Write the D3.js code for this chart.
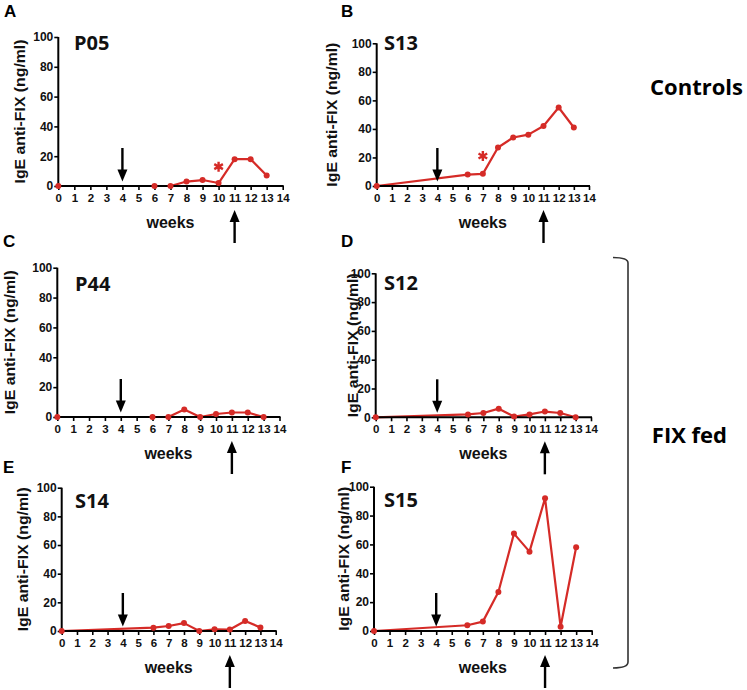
<!DOCTYPE html>
<html>
<head>
<meta charset="utf-8">
<script src="https://cdn.jsdelivr.net/npm/d3@7"></script>
<style>
  html, body { margin: 0; padding: 0; background: #fff; }
  svg { display: block; }
</style>
</head>
<body>
<svg id="chart" width="747" height="690"></svg>
<script>
// ---------------- data ----------------
const weeks = [0, 6, 7, 8, 9, 10, 11, 12, 13];
const panelLetters = ["A", "B", "C", "D", "E", "F"];
const panelNames = ["P05", "S13", "P44", "S12", "S14", "S15"];
const valuesP05 = [0, 0, 0, 3, 4, 2, 18, 18, 7];
const valuesS13 = [0, 8, 8.5, 27, 34, 36, 42, 55, 41];
const valuesP44 = [0, 0, 0, 5, 0, 2, 3, 3, 0];
const valuesS12 = [0, 2, 3, 6, 0.5, 2, 4, 3, 0];
const valuesS14 = [0, 2.3, 3.5, 5.5, 0, 1.2, 1, 7, 2.5];
const valuesS15 = [0, 4, 6.5, 27, 67.5, 55, 92, 3, 58];
const xTicks = [0, 1, 2, 3, 4, 5, 6, 7, 8, 9, 10, 11, 12, 13, 14];
const yTicks = [0, 20, 40, 60, 80, 100];
const xLabel = "weeks";
const yLabel = "IgE anti-FIX (ng/ml)";
const groupLabels = ["Controls", "FIX fed"];
const downArrowWeek = 4;
const upArrowWeek = 11;
const asteriskPanels = [0, 1];
const asteriskWeeks = [10, 7];
const asteriskValues = [13, 21];

const seriesList = [valuesP05, valuesS13, valuesP44, valuesS12, valuesS14, valuesS15];

// ---------------- layout ----------------
const layout = [
  { x0: 58.3, x1: 282.7, y0: 186,   y1: 37,    tx: 20,    lx: 4,   ly: 17,  nx: 74,  ny: 50 },
  { x0: 376.7, x1: 589,  y0: 186,   y1: 43.3,  tx: 332,   lx: 341, ly: 17,  nx: 384, ny: 50 },
  { x0: 57.3, x1: 279.5, y0: 417,   y1: 267.7, tx: 10,    lx: 3,   ly: 247, nx: 75,  ny: 291 },
  { x0: 375.7, x1: 591,  y0: 417.3, y1: 273.3, tx: 353,   lx: 341, ly: 247, nx: 384, ny: 290 },
  { x0: 61.7, x1: 275.7, y0: 631,   y1: 487.7, tx: 23.5,  lx: 3,   ly: 473, nx: 75,  ny: 508 },
  { x0: 374, x1: 591.7,  y0: 631,   y1: 486.7, tx: 344.5, lx: 341, ly: 473, nx: 384, ny: 507 }
];

const RED = "#d52b27";
const svg = d3.select("#chart");
const arialB = "'Liberation Sans', Arial, sans-serif";
const calB = "'Open Sans', 'Noto Sans', sans-serif";

function arrow(g, x, yTail, yTip) {
  const dir = yTip > yTail ? 1 : -1;
  const headLen = 12, headW = 5;
  g.append("line")
    .attr("x1", x).attr("x2", x)
    .attr("y1", yTail).attr("y2", yTip - dir * headLen + dir * 1)
    .attr("stroke", "#000").attr("stroke-width", 2.4);
  g.append("path")
    .attr("d", `M${x - headW},${yTip - dir * headLen} L${x + headW},${yTip - dir * headLen} L${x},${yTip} Z`)
    .attr("fill", "#000");
}

seriesList.forEach((vals, i) => {
  const L = layout[i];
  const x = d3.scaleLinear().domain([0, 14]).range([L.x0, L.x1]);
  const y = d3.scaleLinear().domain([0, 100]).range([L.y0, L.y1]);
  const g = svg.append("g");

  const pts = weeks.map((w, k) => [w, vals[k]]);

  // line (beneath axis)
  g.append("path")
    .datum(pts)
    .attr("fill", "none")
    .attr("stroke", RED)
    .attr("stroke-width", 2.2)
    .attr("stroke-linejoin", "round")
    .attr("d", d3.line().x(d => x(d[0])).y(d => y(d[1])));

  // axes
  const xAxis = d3.axisBottom(x).tickValues(xTicks).tickSize(4).tickSizeOuter(0).tickFormat(d3.format("d"));
  const yAxis = d3.axisLeft(y).tickValues(yTicks).tickSize(4).tickSizeOuter(0).tickFormat(d3.format("d"));

  const gx = g.append("g").attr("transform", `translate(0,${L.y0})`).call(xAxis);
  gx.select(".domain").attr("stroke", "#000").attr("stroke-width", 2).attr("d", `M${L.x0 - 1},0H${L.x1 + 1}`);
  gx.selectAll(".tick line").attr("stroke", "#000").attr("stroke-width", 1.6);
  gx.selectAll(".tick text")
    .attr("y", 8).attr("dy", "0.71em")
    .style("font-family", arialB).style("font-weight", "bold").style("font-size", "11.5px")
    .attr("fill", "#111");

  const gy = g.append("g").attr("transform", `translate(${L.x0},0)`).call(yAxis);
  gy.select(".domain").attr("stroke", "#000").attr("stroke-width", 2).attr("d", `M0,${L.y0 + 1}V${L.y1}`);
  gy.selectAll(".tick line").attr("stroke", "#000").attr("stroke-width", 1.6);
  gy.selectAll(".tick text")
    .attr("x", -5)
    .style("font-family", arialB).style("font-weight", "bold").style("font-size", "12px")
    .attr("fill", "#111");

  // markers
  g.append("g").selectAll("circle").data(pts).join("circle")
    .attr("cx", d => x(d[0])).attr("cy", d => y(d[1]))
    .attr("r", 3).attr("fill", RED);

  // x label
  g.append("text")
    .attr("x", (L.x0 + L.x1) / 2).attr("y", L.y0 + 42)
    .attr("text-anchor", "middle")
    .style("font-family", arialB).style("font-weight", "bold").style("font-size", "16px")
    .attr("fill", "#111")
    .text(xLabel);

  // y label
  const cy = (L.y0 + L.y1) / 2;
  g.append("text")
    .attr("transform", `translate(${L.tx},${cy}) rotate(-90)`)
    .attr("text-anchor", "middle").attr("dy", "0.35em")
    .attr("textLength", 144).attr("lengthAdjust", "spacingAndGlyphs")
    .style("font-family", arialB).style("font-weight", "bold").style("font-size", "14px")
    .attr("fill", "#111")
    .text(yLabel);

  // panel letter
  g.append("text")
    .attr("x", L.lx).attr("y", L.ly)
    .style("font-family", arialB).style("font-weight", "bold").style("font-size", "17px")
    .attr("fill", "#000")
    .text(panelLetters[i]);

  // panel name
  g.append("text")
    .attr("x", L.nx).attr("y", L.ny)
    .style("font-family", calB).style("font-weight", "bold").style("font-size", "20px")
    .attr("fill", "#111")
    .text(panelNames[i]);

  // arrows
  arrow(g, x(downArrowWeek), L.y0 - 38, L.y0 - 4.5);
  arrow(g, x(upArrowWeek), Math.min(L.y0 + 57, 689), L.y0 + 24);

  // asterisk
  const ai = asteriskPanels.indexOf(i);
  if (ai >= 0) {
    g.append("path")
      .attr("transform", `translate(${x(asteriskWeeks[ai])},${y(asteriskValues[ai])})`)
      .attr("d", d3.symbol(d3.symbolAsterisk, 70)())
      .attr("fill", "none").attr("stroke", RED).attr("stroke-width", 2.4);
  }
});

// group labels
svg.append("text")
  .attr("x", 743).attr("y", 95).attr("text-anchor", "end")
  .style("font-family", calB).style("font-weight", "bold").style("font-size", "22px")
  .attr("fill", "#000")
  .text(groupLabels[0]);
svg.append("text")
  .attr("x", 727).attr("y", 443).attr("text-anchor", "end")
  .style("font-family", calB).style("font-weight", "bold").style("font-size", "22px")
  .attr("fill", "#000")
  .text(groupLabels[1]);

// bracket
svg.append("path")
  .attr("d", "M613,257.5 Q628,257.5 628,263 L628,662 Q628,668 613,668")
  .attr("fill", "none").attr("stroke", "#333").attr("stroke-width", 1.6);
</script>
</body>
</html>
